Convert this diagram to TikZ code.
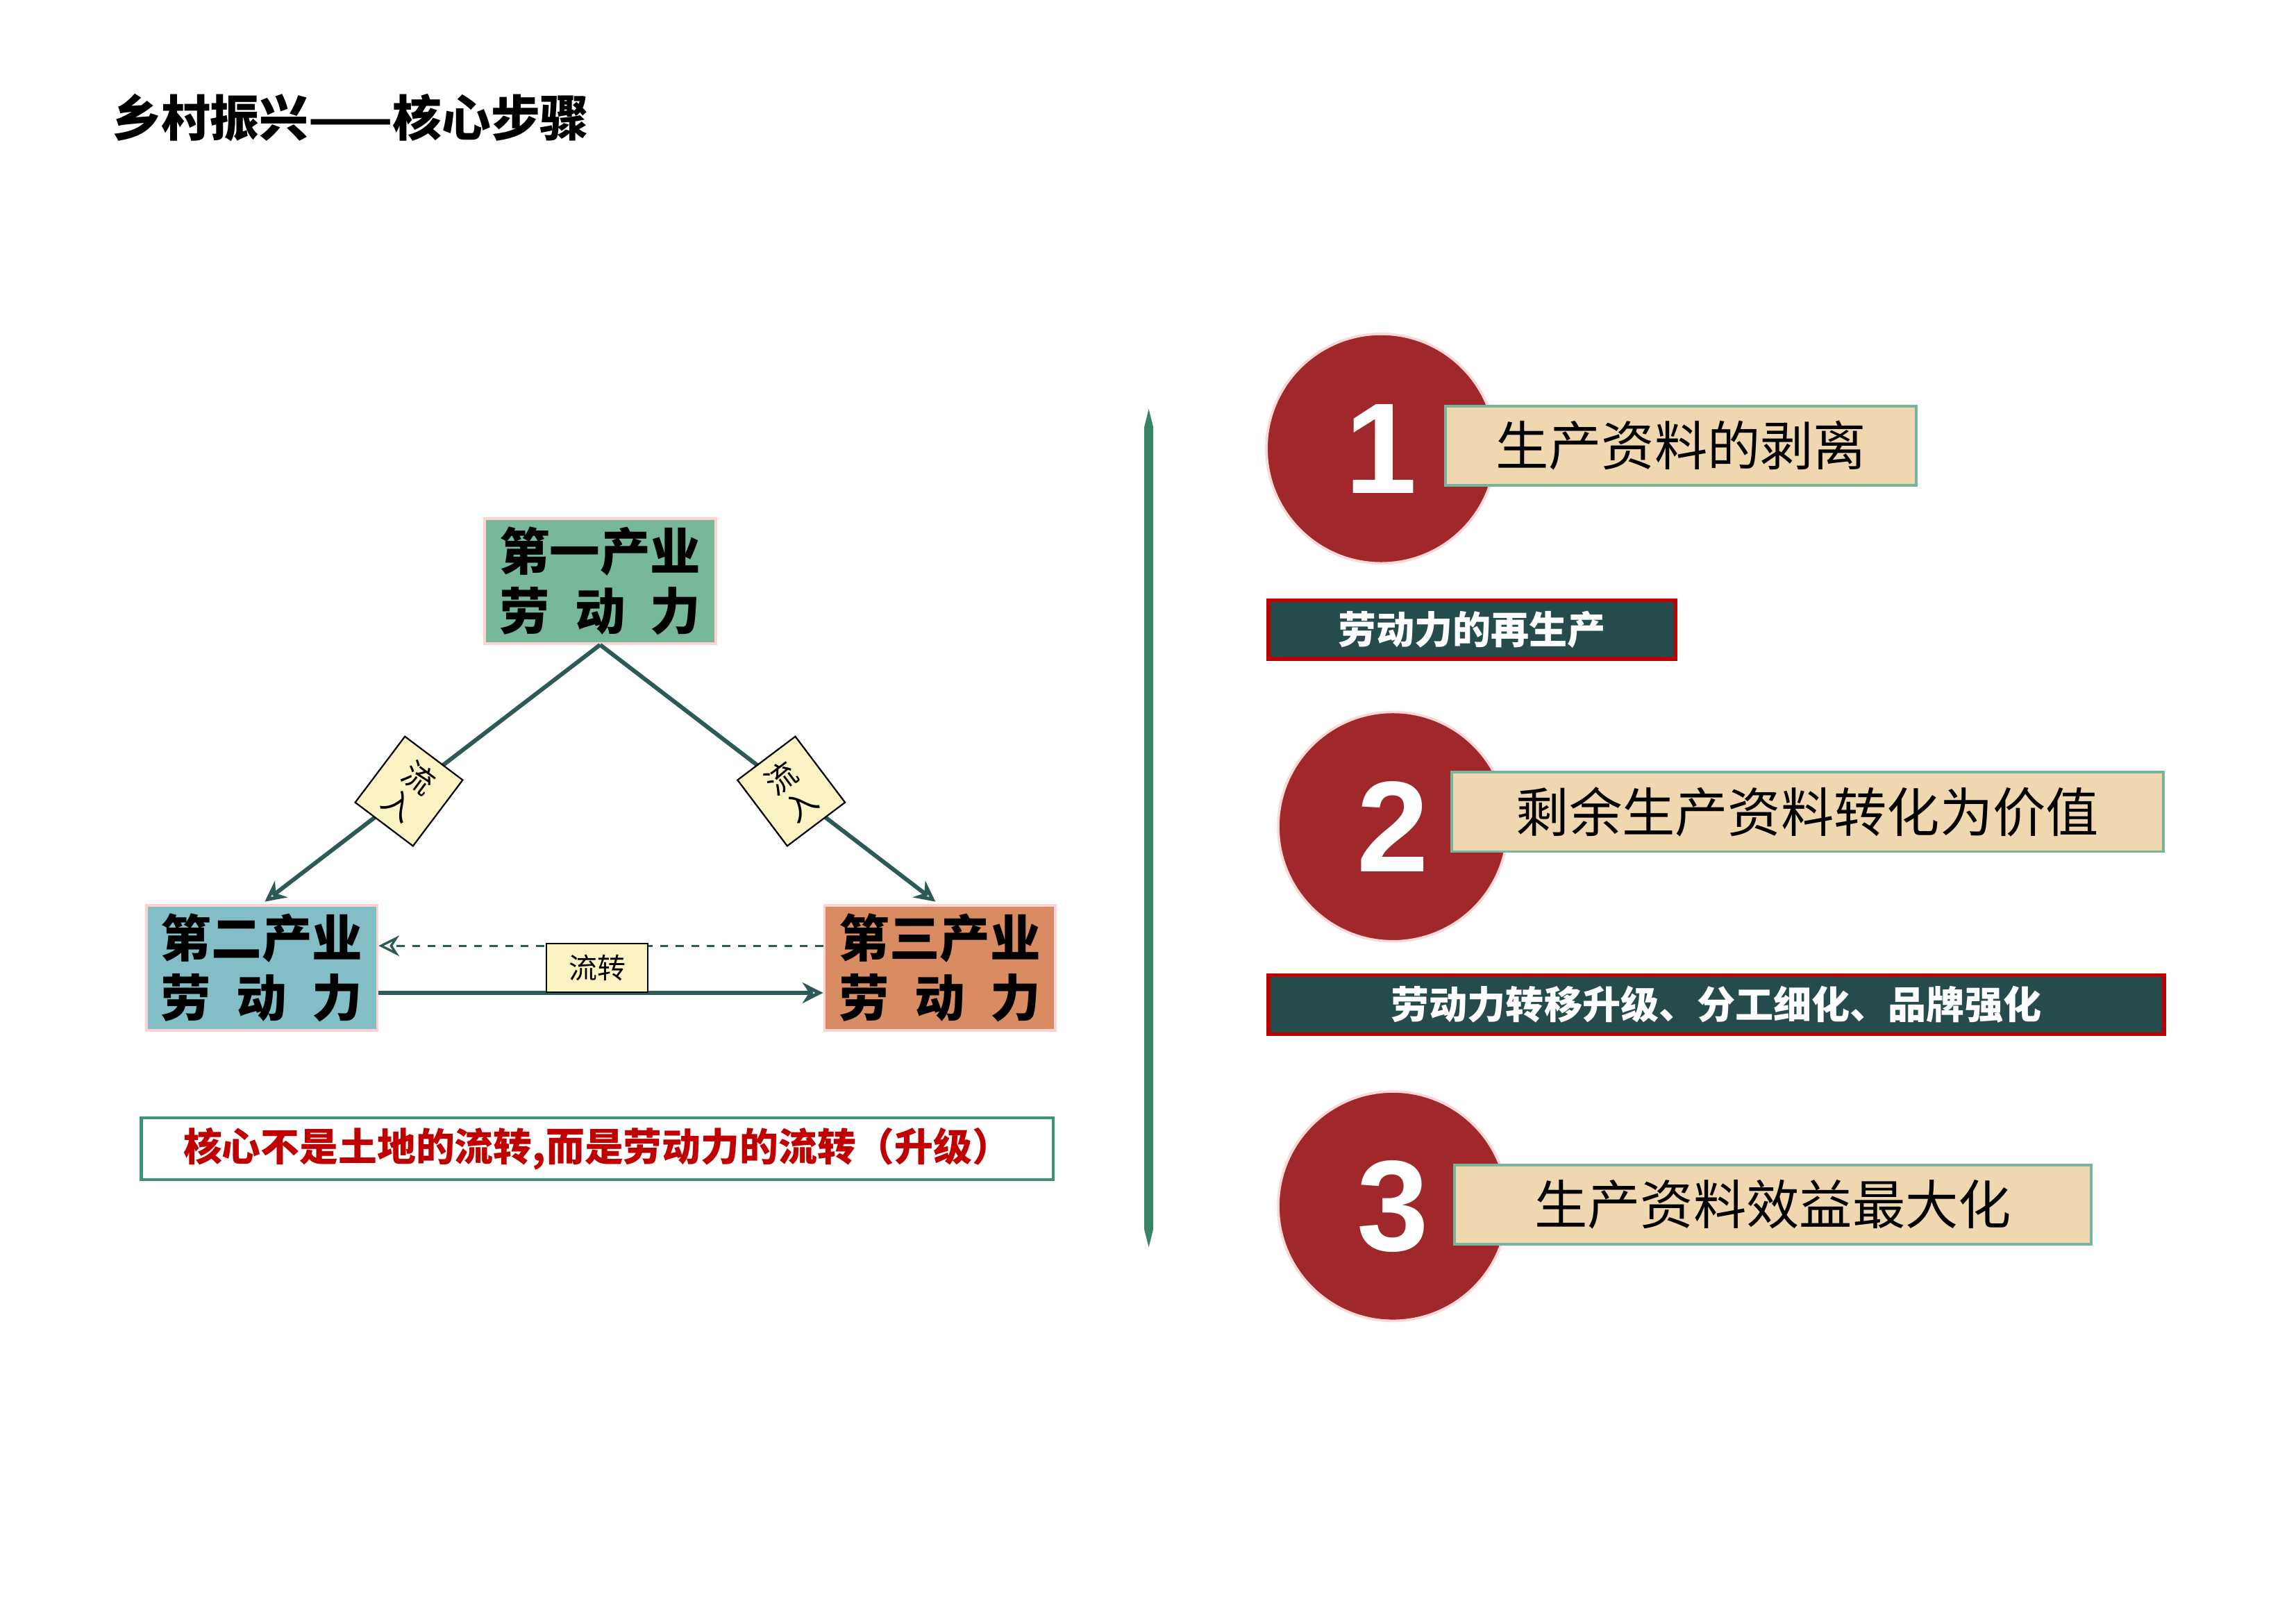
\documentclass[tikz,border=0pt]{standalone}
\usepackage{fontspec}
\setmainfont{Noto Sans CJK SC}
\newfontfamily\numfont{Liberation Sans}
\usetikzlibrary{arrows.meta}
\definecolor{gA}{HTML}{76B899}
\definecolor{gB}{HTML}{83BDC6}
\definecolor{gC}{HTML}{D98B62}
\definecolor{teal}{HTML}{2B5A57}
\definecolor{lab}{HTML}{FBF3C3}
\definecolor{bord}{HTML}{3E9470}
\definecolor{redc}{HTML}{C00000}
\definecolor{circ}{HTML}{A0282A}
\definecolor{tan}{HTML}{EFD8B0}
\definecolor{dark}{HTML}{264B4C}
\begin{document}
\begin{tikzpicture}[x=0.02cm,y=-0.02cm,
  tri/.style={draw=pink!70,line width=1pt,minimum width=157*0.02cm,minimum height=85*0.02cm,font=\fontsize{19.5}{23}\selectfont\bfseries,align=left,inner sep=0pt},
  con/.style={draw=teal,line width=1.6pt,-{Stealth[length=8pt,width=8pt,open]}},
  lbl/.style={draw=black,fill=lab,line width=0.6pt,font=\fontsize{11}{12}\selectfont,inner sep=3pt},
  num/.style={circle,fill=circ,draw=pink!60,line width=1pt,minimum size=156*0.02cm,text=white,font=\numfont\bfseries\fontsize{50}{50}\selectfont},
  tanbox/.style={draw=bord!70,fill=tan,line width=1pt,minimum height=54*0.02cm,anchor=west,font=\fontsize{20.5}{24}\selectfont,inner sep=0pt},
  darkbox/.style={draw=redc,fill=dark,line width=1.5pt,minimum height=40*0.02cm,anchor=west,text=white,font=\fontsize{14.8}{17}\selectfont\bfseries,inner sep=0pt}]
\useasboundingbox (0,0) rectangle (1561,1104);
\node[anchor=west,font=\fontsize{19}{22}\selectfont\bfseries] (title) at (70,80) {乡村振兴——核心步骤};
\node[tri,fill=gA] (p1) at (408,395) {第一产业\\劳\,\,\,动\,\,\,力};
\node[tri,fill=gB] (p2) at (178,658) {第二产业\\劳\,\,\,动\,\,\,力};
\node[tri,fill=gC] (p3) at (639,658) {第三产业\\劳\,\,\,动\,\,\,力};
\coordinate (t1) at (180,613);
\coordinate (t3) at (636,613);
\draw[con] (p1.south) -- (t1) node[pos=0.57,lbl,rotate=-37,align=center,inner xsep=8pt,inner ysep=4pt,font=\fontsize{12}{13}\selectfont] (l1) {流\\入};
\draw[con] (p1.south) -- (t3) node[pos=0.57,lbl,rotate=37,align=center,inner xsep=8pt,inner ysep=4pt,font=\fontsize{12}{13}\selectfont] (l2) {流\\入};
\coordinate (d3) at (p3.west|-0,643);
\coordinate (d2) at (p2.east|-0,643);
\coordinate (s2) at (p2.east|-0,675);
\coordinate (s3) at (p3.west|-0,675);
\draw[con,line width=0.9pt,dashed] (d3) -- (d2);
\draw[con] (s2) -- (s3);
\node[lbl,minimum width=69*0.02cm,minimum height=33*0.02cm] (flow) at (406,658) {流转};
\node[draw=bord,line width=1.2pt,minimum width=620*0.02cm,minimum height=42*0.02cm,text=redc,font=\fontsize{15}{17}\selectfont\bfseries] (core) at (406,781) {核心不是土地的流转,而是劳动力的流转（升级）};
\fill[bord!90!black] (781,278) -- (784,290) -- (784,836) -- (781,848) -- (778,836) -- (778,290) -- cycle;
\node[num] (c1) at (939,305) {1};
\node[tanbox,minimum width=320*0.02cm] (b1) at (982,303) {生产资料的剥离};
\node[num] (c2) at (947,562) {2};
\node[tanbox,minimum width=484*0.02cm] (b2) at (986,552) {剩余生产资料转化为价值};
\node[num] (c3) at (947,820) {3};
\node[tanbox,minimum width=433*0.02cm] (b3) at (988,819) {生产资料效益最大化};
\node[darkbox,minimum width=277*0.02cm] (k1) at (861,428) {劳动力的再生产};
\node[darkbox,minimum width=609*0.02cm] (k2) at (861,683) {劳动力转移升级、分工细化、品牌强化};
\end{tikzpicture}
\end{document}
